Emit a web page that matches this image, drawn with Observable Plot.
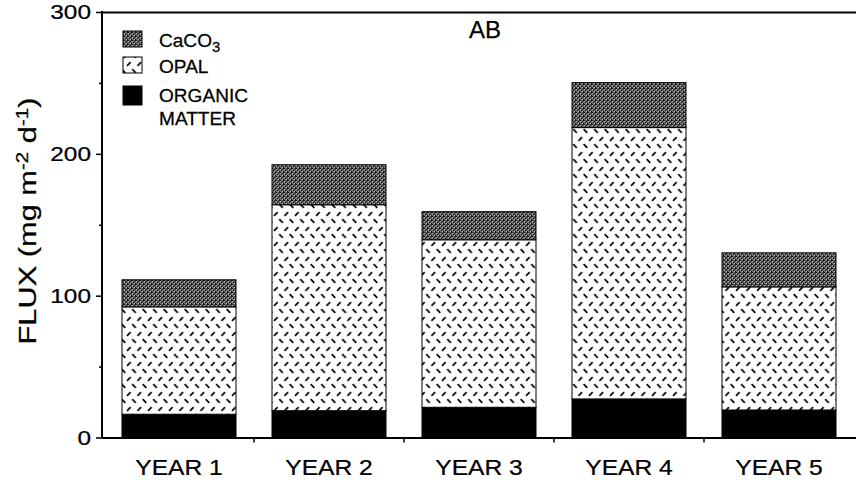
<!DOCTYPE html>
<html><head><meta charset="utf-8">
<script src="https://cdn.jsdelivr.net/npm/d3@7"></script>
<script src="https://cdn.jsdelivr.net/npm/@observablehq/plot@0.6"></script>
<style>body{margin:0;background:#fff} #chart{width:856px;height:482px}</style>
</head><body><div id="chart"></div>
<script>
const years = ["YEAR 1", "YEAR 2", "YEAR 3", "YEAR 4", "YEAR 5"];
const organic = [16.4, 18.9, 21.3, 27.2, 19.4];
const opal = [75.7, 145.2, 118.1, 191.3, 86.8];
const caco3 = [19.1, 28.2, 19.8, 31.7, 24.0];
const components = ["organic", "opal", "caco3"];
const majorTicks = [0, 100, 200, 300];
const minorTicks = [50, 150, 250];

const rows = years.flatMap((yr, i) => [
  {year: yr, comp: "organic", value: organic[i]},
  {year: yr, comp: "opal", value: opal[i]},
  {year: yr, comp: "caco3", value: caco3[i]}
]);

const FONT = "'Liberation Sans', Arial, Helvetica, sans-serif";

const plot = Plot.plot({
  width: 856, height: 482,
  marginLeft: 102, marginRight: 0, marginTop: 12, marginBottom: 44.5,
  style: {fontFamily: FONT, background: "white", color: "black", overflow: "visible"},
  x: {domain: years, paddingInner: 0.24, paddingOuter: 0.12, label: null},
  y: {domain: [0, 300], label: null},
  color: {type: "ordinal", domain: components, range: ["black", "url(#p-opal)", "url(#p-caco3)"]},
  marks: [
    Plot.barY(rows, Plot.stackY({x: "year", y: "value", fill: "comp", stroke: "black", strokeWidth: 1})),
    Plot.ruleY([0], {strokeWidth: 2}),
    Plot.ruleY([300], {strokeWidth: 2}),
    Plot.axisY({ticks: majorTicks, tickSize: 6, tickFormat: () => "", label: null, strokeWidth: 1.5}),
    Plot.axisY({ticks: minorTicks, tickSize: 3, tickFormat: () => "", label: null, strokeWidth: 1.5}),
    Plot.axisX({tickSize: 0, tickFormat: () => "", label: null})
  ]
});
document.getElementById("chart").append(plot);

const svg = d3.select(plot);
const defs = svg.insert("defs", ":first-child");

// CaCO3 stipple pattern
const pc = defs.append("pattern").attr("id", "p-caco3").attr("patternUnits", "userSpaceOnUse")
  .attr("width", 4).attr("height", 4);
pc.append("rect").attr("width", 4).attr("height", 4).attr("fill", "#6a6a6a");
[[0,0],[2,1],[1,2],[3,3],[3,0]].forEach(([a,b]) => pc.append("rect").attr("x", a).attr("y", b).attr("width", 1).attr("height", 1).attr("fill", "#111"));
[[2,3],[0,1]].forEach(([a,b]) => pc.append("rect").attr("x", a).attr("y", b).attr("width", 1).attr("height", 1).attr("fill", "#bbb"));

// Opal dash pattern
const po = defs.append("pattern").attr("id", "p-opal").attr("patternUnits", "userSpaceOnUse")
  .attr("width", 10.5).attr("height", 15);
po.append("rect").attr("width", 10.5).attr("height", 15).attr("fill", "white");
po.append("line").attr("x1", 1).attr("y1", 5.8).attr("x2", 4.6).attr("y2", 2.2).attr("stroke", "black").attr("stroke-width", 1.7);
po.append("line").attr("x1", 6.2).attr("y1", 9.2).attr("x2", 9.8).attr("y2", 12.8).attr("stroke", "black").attr("stroke-width", 1.7);

const xs = plot.scale("x"), ys = plot.scale("y");
const x0 = xs.range[0], y0 = ys.apply(0), yTop = ys.apply(300);

// left axis line
svg.append("line").attr("x1", x0).attr("x2", x0).attr("y1", y0).attr("y2", yTop - 1)
  .attr("stroke", "black").attr("stroke-width", 2);

// x ticks at band boundaries
const gap = xs.step - xs.bandwidth;
years.slice(1).forEach(yr => {
  const bx = xs.apply(yr) - gap / 2;
  svg.append("line").attr("x1", bx).attr("x2", bx).attr("y1", y0).attr("y2", y0 + 5)
    .attr("stroke", "black").attr("stroke-width", 1.5);
});

// text helper: anchored at (x,y), horizontally stretched by factor f
function label(g, x, y, str, size, anchor, f) {
  return g.append("text")
    .attr("transform", `translate(${x},${y}) scale(${f},1)`)
    .attr("font-family", FONT).attr("font-size", size).attr("text-anchor", anchor)
    .attr("fill", "black").attr("stroke", "black").attr("stroke-width", 0.25).text(str);
}
const tg = svg.append("g");

// y tick labels positioned with the y scale
majorTicks.forEach(v => label(tg, x0 - 11, ys.apply(v) + 7.3, String(v), 20, "end", 1.22));

// x tick labels positioned with the x scale
years.forEach(yr => label(tg, xs.apply(yr) + xs.bandwidth / 2, 475, yr, 22, "middle", 1.12));

// title
label(tg, 485, 38, "AB", 24, "middle", 1);

// legend
const legendItems = [
  {fill: "url(#p-caco3)", y: 31, h: 16, lines: ["CaCO"], sub: "3", ty: [46.5]},
  {fill: "url(#p-opal)", y: 57, h: 16, lines: ["OPAL"], ty: [72.5]},
  {fill: "black", y: 86, h: 19, lines: ["ORGANIC", "MATTER"], ty: [101.5, 125]}
];
legendItems.forEach(it => {
  tg.append("rect").attr("x", 123).attr("y", it.y).attr("width", 19).attr("height", it.h)
    .attr("fill", it.fill).attr("stroke", "black").attr("stroke-width", 1);
  it.lines.forEach((ln, j) => {
    const t = label(tg, 159, it.ty[j], ln, 18, "start", 1.06);
    if (it.sub && j === 0) t.append("tspan").attr("dy", 5).attr("font-size", 14).text(it.sub);
  });
});

// y-axis title with superscripts
const yl = svg.append("text").attr("font-family", FONT).attr("font-size", 24).attr("text-anchor", "middle")
  .attr("stroke", "black").attr("stroke-width", 0.25);
yl.append("tspan").text("FLUX (mg m");
yl.append("tspan").attr("dy", -8).attr("font-size", 16).text("-2");
yl.append("tspan").attr("dy", 8).text(" d");
yl.append("tspan").attr("dy", -8).attr("font-size", 16).text("-1");
yl.append("tspan").attr("dy", 8).text(")");
const ylen = yl.node().getComputedTextLength();
const sx = 247 / ylen;
yl.attr("transform", `translate(36,221) rotate(-90) scale(${sx},1)`);
</script>
</body></html>
